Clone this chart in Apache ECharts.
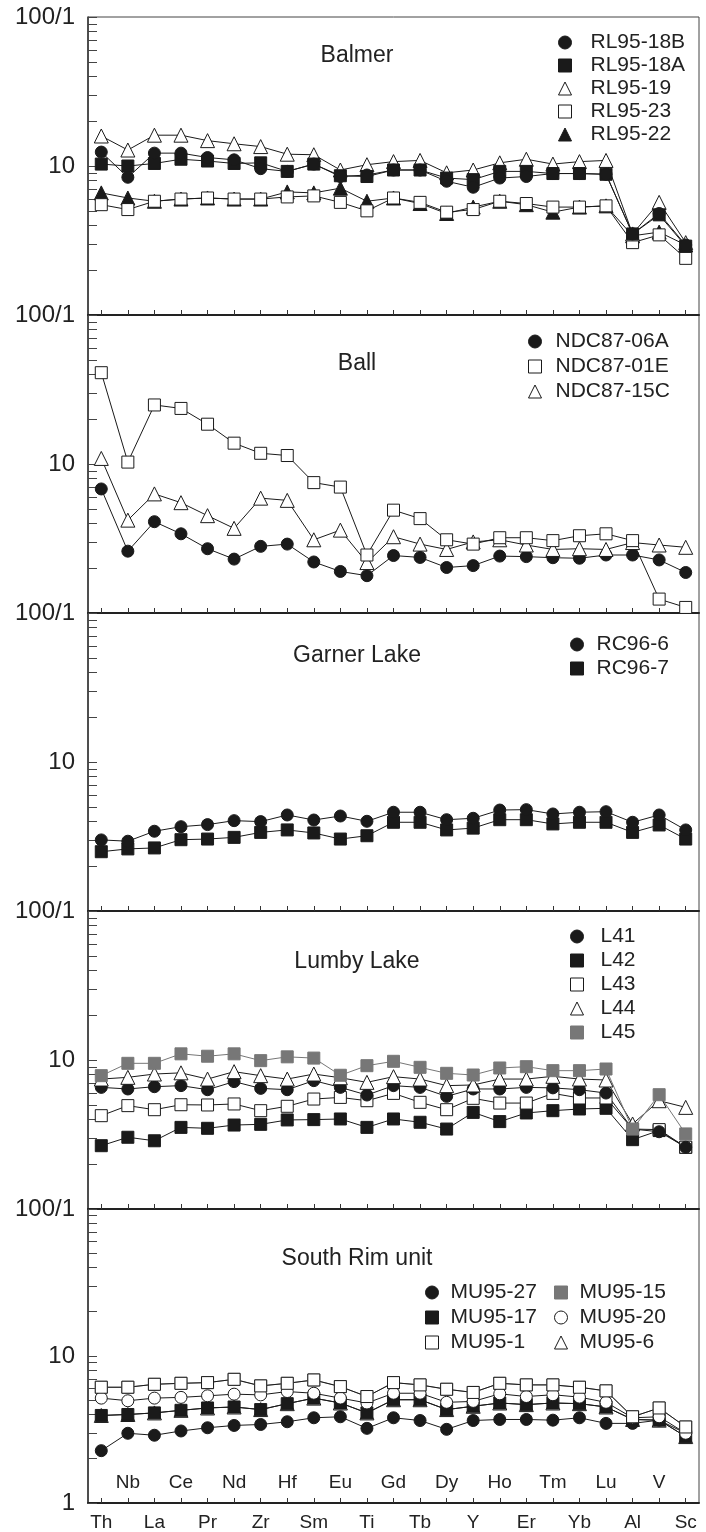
<!DOCTYPE html>
<html><head><meta charset="utf-8">
<script src="https://cdn.jsdelivr.net/npm/echarts@6/dist/echarts.min.js"></script>
<style>html,body{margin:0;padding:0;background:#fff}#c{width:706px;height:1532px}</style>
</head><body><div id="c"></div>
<script>
// ---------- data ----------
const categories = ['Th','Nb','La','Ce','Pr','Nd','Zr','Hf','Sm','Eu','Ti','Gd','Tb','Dy','Y','Ho','Er','Tm','Yb','Lu','Al','V','Sc'];
const yTickValues = [1,2,3,4,5,6,7,8,9,10,20,30,40,50,60,70,80,90,100];
const yLabelValues = [1,10,100];
const panelTitles = ['Balmer','Ball','Garner Lake','Lumby Lake','South Rim unit'];

// Balmer
const RL95_18B = [12.4,8.4,12.2,12.2,11.4,11.0,9.6,9.2,10.3,8.5,8.7,9.4,9.4,7.9,7.2,8.3,8.5,8.9,8.9,8.8,3.5,4.8,2.95];
const RL95_18A = [10.3,10.0,10.4,11.1,10.8,10.4,10.5,9.2,10.3,8.6,8.5,9.4,9.4,8.3,8.1,9.2,9.2,8.9,8.9,8.8,3.5,4.7,2.9];
const RL95_19  = [15.9,12.8,16.1,16.1,14.8,14.1,13.5,12.0,11.9,9.4,10.2,10.7,10.9,9.0,9.4,10.5,11.1,10.3,10.7,10.9,3.5,5.7,3.06];
const RL95_23  = [5.5,5.1,5.8,6.0,6.1,6.0,6.0,6.2,6.3,5.7,5.0,6.1,5.7,4.9,5.1,5.8,5.6,5.3,5.3,5.4,3.06,3.45,2.4];
const RL95_22  = [6.6,6.1,5.8,6.0,6.1,6.0,6.0,6.7,6.6,7.1,5.8,6.1,5.6,4.8,5.3,5.8,5.5,4.9,5.3,5.4,3.4,3.6,2.95];
// Ball
const NDC87_06A = [6.8,2.6,4.1,3.4,2.7,2.3,2.8,2.9,2.2,1.9,1.78,2.43,2.36,2.02,2.08,2.41,2.39,2.35,2.33,2.45,2.45,2.27,1.87];
const NDC87_01E = [41.0,10.3,24.9,23.6,18.5,13.8,11.8,11.4,7.5,7.0,2.45,4.9,4.3,3.1,2.9,3.2,3.2,3.06,3.3,3.4,3.06,1.24,1.09];
const NDC87_15C = [10.9,4.2,6.3,5.5,4.5,3.7,5.9,5.7,3.1,3.6,2.18,3.25,2.9,2.67,3.0,3.1,2.86,2.67,2.7,2.67,2.97,2.86,2.76];
// Garner Lake
const RC96_6 = [3.0,2.94,3.43,3.68,3.8,4.04,3.98,4.41,4.08,4.34,4.0,4.6,4.6,4.1,4.19,4.76,4.79,4.48,4.6,4.64,3.94,4.41,3.5];
const RC96_7 = [2.5,2.61,2.65,3.01,3.04,3.12,3.37,3.5,3.34,3.04,3.2,3.94,3.94,3.5,3.6,4.1,4.1,3.84,3.94,3.94,3.37,3.78,3.04];
// Lumby Lake
const L41 = [6.55,6.39,6.62,6.73,6.32,7.16,6.45,6.32,7.27,6.55,5.82,6.73,6.55,5.7,6.39,6.39,6.55,6.5,6.32,6.0,3.44,3.3,2.6];
const L42 = [2.66,3.03,2.87,3.53,3.48,3.66,3.7,3.96,3.98,4.02,3.53,4.02,3.82,3.44,4.45,3.86,4.41,4.57,4.69,4.74,2.92,3.36,2.59];
const L43 = [4.23,4.94,4.64,5.01,4.99,5.07,4.57,4.89,5.47,5.61,5.33,5.97,5.2,4.64,5.53,5.14,5.14,5.97,5.56,5.56,3.44,3.41,2.6];
const L44 = [7.45,7.65,8.05,8.2,7.45,8.35,7.85,7.45,8.05,7.6,7.08,7.73,7.45,6.73,6.8,7.45,7.45,7.77,7.45,7.34,3.72,5.33,4.81];
const L45 = [7.85,9.5,9.5,11.0,10.6,11.0,9.9,10.5,10.3,7.9,9.16,9.8,8.93,8.14,7.93,8.84,9.02,8.48,8.48,8.7,3.44,5.85,3.19];
// South Rim unit
const MU95_27 = [2.27,2.98,2.89,3.09,3.25,3.37,3.42,3.57,3.8,3.86,3.22,3.8,3.64,3.17,3.64,3.7,3.7,3.66,3.8,3.48,3.48,3.66,2.98];
const MU95_17 = [3.94,4.0,4.1,4.27,4.43,4.5,4.32,4.74,5.17,4.79,4.1,5.04,5.04,4.32,4.55,4.79,4.67,4.79,4.74,4.5,3.7,3.66,2.83];
const MU95_1  = [6.13,6.13,6.42,6.52,6.59,6.94,6.26,6.52,6.87,6.19,5.3,6.59,6.36,5.94,5.65,6.52,6.36,6.36,6.13,5.79,3.86,4.43,3.29];
const MU95_15 = [6.13,6.13,6.42,6.52,6.59,6.94,6.26,6.52,6.87,6.19,5.3,6.59,6.36,5.94,5.65,6.52,6.36,6.36,6.13,5.79,3.86,4.43,3.29];
const MU95_20 = [5.17,4.96,5.17,5.23,5.36,5.5,5.44,5.73,5.58,5.17,4.79,5.58,5.58,4.84,4.91,5.53,5.3,5.45,5.25,4.84,3.8,3.86,2.98];
const MU95_6  = [3.94,4.0,4.1,4.27,4.43,4.5,4.32,4.74,5.17,4.79,4.1,5.04,5.04,4.32,4.55,4.79,4.67,4.79,4.74,4.5,3.7,3.66,2.83];

// ---------- styles ----------
const FONT = "'Liberation Sans', Arial, Helvetica, sans-serif";
const INK = '#1a1a1a';
const MARK = {
  fc: {symbol:'circle',   size:12, fill:INK,    border:INK,  line:INK},
  fs: {symbol:'rect',     size:12, fill:INK,    border:INK,  line:INK},
  ft: {symbol:'triangle', size:14, fill:INK,    border:INK,  line:INK},
  oc: {symbol:'circle',   size:12, fill:'#fff', border:INK,  line:INK},
  os: {symbol:'rect',     size:12, fill:'#fff', border:INK,  line:INK},
  ot: {symbol:'triangle', size:14, fill:'#fff', border:INK,  line:INK},
  gs: {symbol:'rect',     size:12, fill:'#777', border:'#777', line:'#777'}
};

const panels = [
  {series:[['RL95-22',RL95_22,'ft'],['RL95-23',RL95_23,'os'],['RL95-19',RL95_19,'ot'],['RL95-18A',RL95_18A,'fs'],['RL95-18B',RL95_18B,'fc']],
   legendOrder:[['RL95-18B','RL95-18A','RL95-19','RL95-23','RL95-22']], legendPos:[[558,32]], pad:14, gap:2, titleTop:39},
  {series:[['NDC87-06A',NDC87_06A,'fc'],['NDC87-15C',NDC87_15C,'ot'],['NDC87-01E',NDC87_01E,'os']],
   legendOrder:[['NDC87-06A','NDC87-01E','NDC87-15C']], legendPos:[[528,331]], pad:9, gap:4, titleTop:347},
  {series:[['RC96-7',RC96_7,'fs'],['RC96-6',RC96_6,'fc']],
   legendOrder:[['RC96-6','RC96-7']], legendPos:[[570,634]], pad:8, gap:3, titleTop:639},
  {series:[['L42',L42,'fs'],['L43',L43,'os'],['L41',L41,'fc'],['L44',L44,'ot'],['L45',L45,'gs']],
   legendOrder:[['L41','L42','L43','L44','L45']], legendPos:[[570,926]], pad:12, gap:3, titleTop:945},
  {series:[['MU95-15',MU95_15,'gs'],['MU95-6',MU95_6,'ot'],['MU95-27',MU95_27,'fc'],['MU95-17',MU95_17,'fs'],['MU95-20',MU95_20,'oc'],['MU95-1',MU95_1,'os']],
   legendOrder:[['MU95-27','MU95-17','MU95-1'],['MU95-15','MU95-20','MU95-6']], legendPos:[[425,1282],[554,1282]], pad:7, gap:4, titleTop:1242}
];

const gridLeft = 88, gridWidth = 611, gridTop0 = 17, gridH = 298;

const option = {animation:false, backgroundColor:'#fff', grid:[], xAxis:[], yAxis:[], series:[], legend:[], title:[]};
const styleOf = {};
panels.forEach(p => p.series.forEach(s => styleOf[s[0]] = MARK[s[2]]));

panels.forEach((p, i) => {
  const top = gridTop0 + i * gridH;
  const last = i === panels.length - 1;
  option.grid.push({left:gridLeft, width:gridWidth, top:top, height:gridH, show:true, borderColor:'#444', borderWidth:1, backgroundColor:'transparent'});
  option.xAxis.push({
    type:'category', data:categories, gridIndex:i, boundaryGap:true,
    axisLine:{show:true, lineStyle:{color:'#222', width:2}},
    axisTick:{show:true, inside:true, length:5, alignWithLabel:true, interval:0, lineStyle:{color:'#333', width:1}},
    axisLabel:{show:last, interval:(idx)=>idx%2===0, margin:10, fontSize:19, color:'#222', fontFamily:FONT},
    splitLine:{show:false}
  });
  option.yAxis.push({
    type:'log', logBase:10, min:1, max:100, gridIndex:i,
    axisLine:{show:true, lineStyle:{color:'#333', width:1.5}},
    axisTick:{show:true, inside:true, length:9, customValues:yTickValues, lineStyle:{color:'#444', width:1}},
    axisLabel:{show:true, customValues:yLabelValues, margin:13, fontSize:24, color:'#222', fontFamily:FONT,
      showMinLabel:true, showMaxLabel:true,
      formatter:(v)=>{const r=Math.round(v); if(r===100) return '100/1'; if(r===10) return '10'; return last ? '1' : '';}},
    splitLine:{show:false}, minorTick:{show:false}
  });
  option.title.push({text:panelTitles[i], left:352, top:p.titleTop, textAlign:'center',
    textStyle:{fontSize:23, fontWeight:'normal', color:'#222', fontFamily:FONT}});
  p.series.forEach(s => {
    const st = MARK[s[2]];
    option.series.push({
      type:'line', name:s[0], data:s[1], xAxisIndex:i, yAxisIndex:i,
      symbol:st.symbol, symbolSize:st.size, showSymbol:true, showAllSymbol:true,
      itemStyle:{color:st.fill, borderColor:st.border, borderWidth:1},
      lineStyle:{color:st.line, width:1},
      emphasis:{disabled:true}, silent:true
    });
  });
  p.legendOrder.forEach((names, k) => {
    option.legend.push({
      orient:'vertical', left:p.legendPos[k][0], top:p.legendPos[k][1], itemWidth:13, itemHeight:13, itemGap:p.gap,
      selectedMode:false, padding:0,
      textStyle:{fontSize:21, color:'#222', fontFamily:FONT, lineHeight:21, padding:[0,0,0,p.pad]},
      data:names.map(n => ({name:n, icon:styleOf[n].symbol,
        itemStyle:{color:styleOf[n].fill, borderColor:styleOf[n].border, borderWidth:1}}))
    });
  });
});

// second x axis on the last panel for the upper row of labels (inside the plot)
option.xAxis.push({
  type:'category', data:categories, gridIndex:panels.length-1, boundaryGap:true, position:'bottom',
  axisLine:{show:false}, axisTick:{show:false}, splitLine:{show:false},
  axisLabel:{show:true, inside:true, interval:(idx)=>idx%2===1, margin:11, fontSize:19, color:'#222', fontFamily:FONT}
});

const chart = echarts.init(document.getElementById('c'), null, {renderer:'canvas'});
chart.setOption(option);
</script>
</body></html>
